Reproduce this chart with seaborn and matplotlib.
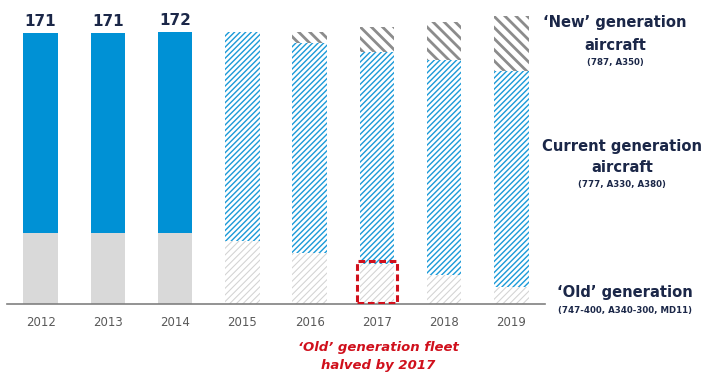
import numpy as np
import pandas as pd
import seaborn as sns
from matplotlib import pyplot as plt
from matplotlib.patches import Rectangle

# fleet per year (aircraft)
years = ['2012', '2013', '2014', '2015', '2016', '2017', '2018', '2019']
old_gen = [45, 45, 45, 40, 32, 25, 18, 11]
current_gen = [126, 126, 127, 132, 133, 134, 136, 136]
new_gen = [0, 0, 0, 0, 7, 16, 24, 35]
n_actual = 3  # 2012-2014 are actuals, the rest are plan

BLUE = '#0091D5'
GREY = '#D9D9D9'
NAVY = '#1B2748'
RED = '#D0101C'

df = pd.DataFrame({'year': years, 'old': old_gen, 'current': current_gen, 'new': new_gen})
df['old_cur'] = df['old'] + df['current']
df['total'] = df['old_cur'] + df['new']

sns.set_style('white')
fig = plt.figure(figsize=(7.13, 3.79), dpi=100)
ax = fig.add_axes([7 / 713, 75 / 379, 538 / 713, 301 / 379])


def layer(col, hatch, hcolor, hlw):
    n0 = len(ax.patches)
    sns.barplot(data=df, x='year', y=col, color='white', saturation=1,
                width=0.51, errorbar=None, hatch=hatch, edgecolor=hcolor,
                linewidth=0, ax=ax)
    bars = ax.patches[n0:]
    for b in bars:
        if hasattr(b, 'set_hatch_linewidth'):
            b.set_hatch_linewidth(hlw)
    return bars


# stacked by overdrawing: total, then old+current, then old
new_bars = layer('total', '\\' * 3, '#8C8C8C', 2.0)
cur_bars = layer('old_cur', '/' * 6, '#1A9AD8', 1.0)
old_bars = layer('old', '/' * 5, '#D3D3D3', 0.75)

for i in range(len(years)):
    if new_gen[i] == 0:
        new_bars[i].set_visible(False)
    if i < n_actual:
        cur_bars[i].set_hatch(None)
        cur_bars[i].set_facecolor(BLUE)
        old_bars[i].set_hatch(None)
        old_bars[i].set_facecolor(GREY)
        ax.text(i, df['total'][i] + 2.5, str(df['total'][i]), ha='center', va='bottom',
                fontsize=11, fontweight='bold', color=NAVY)

# highlight the 2017 'old' block
i17 = years.index('2017')
ax.add_patch(Rectangle((i17 - 0.3, 0.8), 0.6, old_gen[i17] + 1.2, fill=False,
                       edgecolor=RED, linewidth=2.2, linestyle=(0, (2.2, 1.2)), zorder=5))

ax.set_xlim(-0.5, 7.5)
ax.set_ylim(0, 190)
ax.set_xlabel('')
ax.set_ylabel('')
ax.set_yticks([])
ax.tick_params(axis='x', length=0, pad=9, labelsize=8.5, labelcolor='#595959')
for s in ['top', 'right', 'left']:
    ax.spines[s].set_visible(False)
ax.spines['bottom'].set_color('#808080')
ax.spines['bottom'].set_linewidth(1.2)


def ftxt(x, y, s, size, weight='bold', style='normal', color=NAVY):
    fig.text(x / 713, 1 - y / 379, s, ha='center', va='center', fontsize=size,
             fontweight=weight, fontstyle=style, color=color)


ftxt(615, 23, '\u2018New\u2019 generation', 10.6)
ftxt(615, 45, 'aircraft', 10.6)
ftxt(615, 62, '(787, A350)', 6.2)
ftxt(622, 147, 'Current generation', 10.6)
ftxt(622, 168, 'aircraft', 10.6)
ftxt(622, 185, '(777, A330, A380)', 6.2)
ftxt(625, 293, '\u2018Old\u2019 generation', 10.6)
ftxt(625, 310, '(747-400, A340-300, MD11)', 6.2)

ftxt(378, 348, '\u2018Old\u2019 generation fleet', 9.5, style='italic', color=RED)
ftxt(378, 366, 'halved by 2017', 9.5, style='italic', color=RED)

fig.savefig('out.png', dpi=100)
